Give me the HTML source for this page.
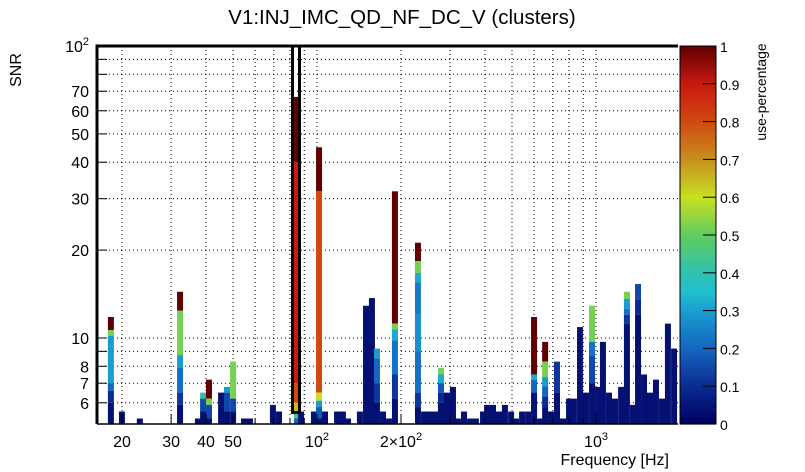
<!DOCTYPE html>
<html><head><meta charset="utf-8"><style>
body{margin:0;background:#fff;}
svg{display:block;font-family:"Liberation Sans",sans-serif;}
</style></head><body>
<svg id="c" width="805" height="472" viewBox="0 0 805 472">
<rect x="0" y="0" width="805" height="472" fill="#fff"/>
<text x="402" y="24" text-anchor="middle" font-size="20.5">V1:INJ_IMC_QD_NF_DC_V (clusters)</text>
<text transform="translate(21,70) rotate(-90)" text-anchor="middle" font-size="16">SNR</text>
<text x="669" y="465" text-anchor="end" font-size="16">Frequency [Hz]</text>
<text transform="translate(766,92) rotate(-90)" text-anchor="middle" font-size="14">use-percentage</text>
<g id="grid"></g>
<g id="bars"></g>
<g id="axes"></g>
<g id="cbar"></g>
</svg>
<script>
const freqs = [17.8,19.5,22.6,31.5,36.5,38.1,40.0,44.2,46.4,48.8,53.4,56.1,67.8,71.3,85.5,95.1,99.2,104.2,115.1,120.8,126.0,139.0,146.2,153.5,160,168.2,176.6,185.6,224.4,236,247.9,260.4,271.4,285.2,299.6,312.2,328.2,345,362,384,397,417,438,460,484,504,530,557,585,615,641,673,707,743,781,813,855,898,944,992,1033,1086,1141,1200,1259,1324,1380,1450,1523,1600,1682,1766,1858];
const tops = [11.8,5.6,5.3,14.4,5.3,6.5,7.2,6.5,6.8,8.3,5.3,5.3,5.9,5.6,5.6,5.6,45,5.6,5.6,5.6,5.3,5.6,12.9,13.7,9.2,5.6,5.3,31.8,21.2,5.6,5.6,5.6,7.9,6.5,6.8,5.3,5.6,5.3,5.3,5.6,5.9,5.9,5.6,5.9,5.6,5.3,5.6,5.6,11.8,5.3,9.7,5.6,8.3,5.3,6.2,6.2,10.9,6.5,12.9,6.8,9.7,6.5,6.2,6.8,14.4,5.9,15.3,7.5,6.5,7.2,6.2,11.2,9.2];
const profiles = {
 "17.8":[[10.65,1],[10.16,0.52],[7.0,0.3],[6.6,0.2],[6.0,0.1]],
 "31.5":[[12.4,1],[8.74,0.52],[7.9,0.3],[6.5,0.22],[5.9,0.12]],
 "38.1":[[6.2,0.4],[5.6,0.15]],
 "40":[[6.2,1],[5.9,0.52],[5.3,0.15]],
 "46.4":[[6.5,0.3],[5.6,0.15]],
 "48.8":[[6.2,0.52],[5.6,0.15]],
 "99.2":[[31.8,1],[6.5,0.8],[6.1,0.6],[5.8,0.3],[5.3,0.18]],
 "160":[[8.5,0.3],[7,0.2],[6,0.12]],
 "185.6":[[11.2,1],[10.7,0.52],[9.8,0.32],[7.5,0.22],[6.2,0.12]],
 "224.4":[[18.35,1],[16.7,0.52],[15.5,0.32],[12,0.24],[9,0.28],[6.5,0.22],[5.8,0.12]],
 "271.4":[[7.5,0.52],[7.0,0.32],[6.5,0.18],[6,0.1]],
 "585":[[7.5,1],[7.2,0.32],[6.5,0.2]],
 "641":[[8.3,1],[7.35,0.52],[6.82,0.3],[6.3,0.2],[5.8,0.1]],
 "707":[[6.5,0.12]],
 "944":[[9.7,0.52],[8.7,0.22],[7,0.15]],
 "1259":[[13.6,0.52],[12.6,0.3],[12,0.22],[11.2,0.12]],
 "1380":[[13.5,0.15],[12,0.1]]
};
const peakFreq = [82.7];
const peakTop = [66.9];
const peakProfile = [[[40,1],[7,0.9],[6,0.8],[5.6,0.65],[5.3,0.45],[5.07,0.2]]];
const yTicks = [6,7,8,9,10,20,30,40,50,60,70,80,90,100];
const yLabels = ["6","7","8","","10","20","30","40","50","60","70","","",""];
const xTicks = [20,30,40,50,60,70,80,90,100,200,300,400,500,600,700,800,900,1000];
const xLabels = ["20","30","40","50","","","","","","","","","","","","","",""];

const NS="http://www.w3.org/2000/svg";
const X0=97,X1=678,Y0=46,Y1=424,YMIN=5.07;
const binW=0.0215;
function xs(f){return 122+279*(Math.log10(f)-Math.log10(20));}
function ys(s){return 46+292*(2-Math.log10(s));}
function mk(tag,attrs,parent){const e=document.createElementNS(NS,tag);for(const k in attrs)e.setAttribute(k,attrs[k]);parent.appendChild(e);return e;}
const stops=[[0,[0,0,96]],[0.1,[10,42,144]],[0.2,[20,102,192]],[0.3,[26,156,208]],[0.35,[32,192,208]],[0.4,[48,192,176]],[0.5,[96,204,96]],[0.6,[200,224,32]],[0.7,[200,144,32]],[0.8,[208,74,16]],[0.9,[200,26,16]],[1,[96,0,0]]];
function cmap(v){for(let i=1;i<stops.length;i++){if(v<=stops[i][0]){const a=stops[i-1],b=stops[i];const t=(v-a[0])/(b[0]-a[0]);const c=a[1].map((x,j)=>Math.round(x+(b[1][j]-x)*t));return `rgb(${c})`;}}return "rgb(96,0,0)";}

const grid=document.getElementById('grid');
yTicks.forEach(t=>{const y=ys(t);
 const l=mk('line',{x1:X0,x2:X1,y1:y,y2:y,stroke:'#000','stroke-width':1,'stroke-dasharray':'1 3'},grid);
 
 });
xTicks.forEach(t=>{const x=xs(t);if(x<X0||x>X1)return;
 const l=mk('line',{x1:x,x2:x,y1:Y0,y2:Y1,stroke:'#000','stroke-width':1,'stroke-dasharray':'1 3'},grid);
 
 });

const bars=document.getElementById('bars');
function drawBar(f,top,prof,w){
 const xa=xs(f), xb=xs(f*Math.pow(10,binW));
 let segs=[];let upper=top;
 (prof||[]).forEach(p=>{segs.push([p[0],upper,p[1]]);upper=p[0];});
 if(upper>YMIN)segs.push([YMIN,upper,0.04]);
 segs.forEach(s=>{const ya=ys(s[1]),yb=ys(Math.max(s[0],YMIN));
  const r=mk('rect',{x:xa,y:ya,width:w||Math.max(xb-xa,1),height:Math.max(yb-ya,0),fill:cmap(s[2])},bars);
  
  });
}
freqs.forEach((f,i)=>drawBar(f,tops[i],profiles[String(f)]));
peakFreq.forEach((f,i)=>{drawBar(f,peakTop[i],peakProfile[i],4);
 const x=xs(f);
 const b=mk('rect',{x:x-1.5,y:Y0,width:7,height:ys(5.6)-Y0+1,fill:'none',stroke:'#000','stroke-width':3},bars);
 
 });

const axes=document.getElementById('axes');
const fr=mk('path',{d:`M${X0},${Y1} L${X0},${Y0} L${X1},${Y0}`,fill:'none',stroke:'#000','stroke-width':3},axes);


const bl=mk('line',{x1:X0,x2:X1,y1:Y1,y2:Y1,stroke:'#000','stroke-width':1.5},axes);


yTicks.forEach((t,i)=>{const y=ys(t);
 const tk=mk('line',{x1:X0,x2:X0+10,y1:y,y2:y,stroke:'#000','stroke-width':1},axes);
 
 
 if(yLabels[i]){const tx=mk('text',{x:89,y:y+6,'text-anchor':'end','font-size':16},axes);tx.textContent=yLabels[i];
 
 }});
const y100=mk('text',{x:89,y:ys(100)+6,'text-anchor':'end','font-size':16},axes);
y100.innerHTML='10<tspan dy="-7" font-size="11">2</tspan>';


xTicks.forEach((t,i)=>{const x=xs(t);if(x<X0)return;
 const major=[20,30,40,50,100,200,1000].includes(t);
 const tk=mk('line',{x1:x,x2:x,y1:Y1,y2:Y1-(major?10:6),stroke:'#000','stroke-width':1},axes);
 
 
 if(xLabels[i]){const tx=mk('text',{x:x,y:447,'text-anchor':'middle','font-size':16},axes);tx.textContent=xLabels[i];
 
 }});
[[100,'10','2',''],[200,'2×10','2',''],[1000,'10','3','']].forEach(d=>{
 const tx=mk('text',{x:xs(d[0]),y:447,'text-anchor':'middle','font-size':16},axes);
 tx.innerHTML=d[1]+'<tspan dy="-7" font-size="11">'+d[2]+'</tspan>';
 
 });

const cb=document.getElementById('cbar');
for(let i=0;i<100;i++){const v0=i/100;const y=Y1-(i+1)*(Y1-Y0)/100;
 const r=mk('rect',{x:680,y:y,width:36,height:(Y1-Y0)/100+0.6,fill:cmap(v0+0.005)},cb);
 
 }
const cbf=mk('rect',{x:680,y:Y0,width:36,height:Y1-Y0,fill:'none',stroke:'#000','stroke-width':1},cb);


for(let i=0;i<=10;i++){const y=Y1-i*(Y1-Y0)/10;
 const tk=mk('line',{x1:703,x2:716,y1:y,y2:y,stroke:'#000','stroke-width':1},cb);
 
 
 const tx=mk('text',{x:720,y:y+6,'font-size':14},cb);tx.textContent=(i===0?'0':i===10?'1':(i/10).toFixed(1));
 
 }
</script>
</body></html>
